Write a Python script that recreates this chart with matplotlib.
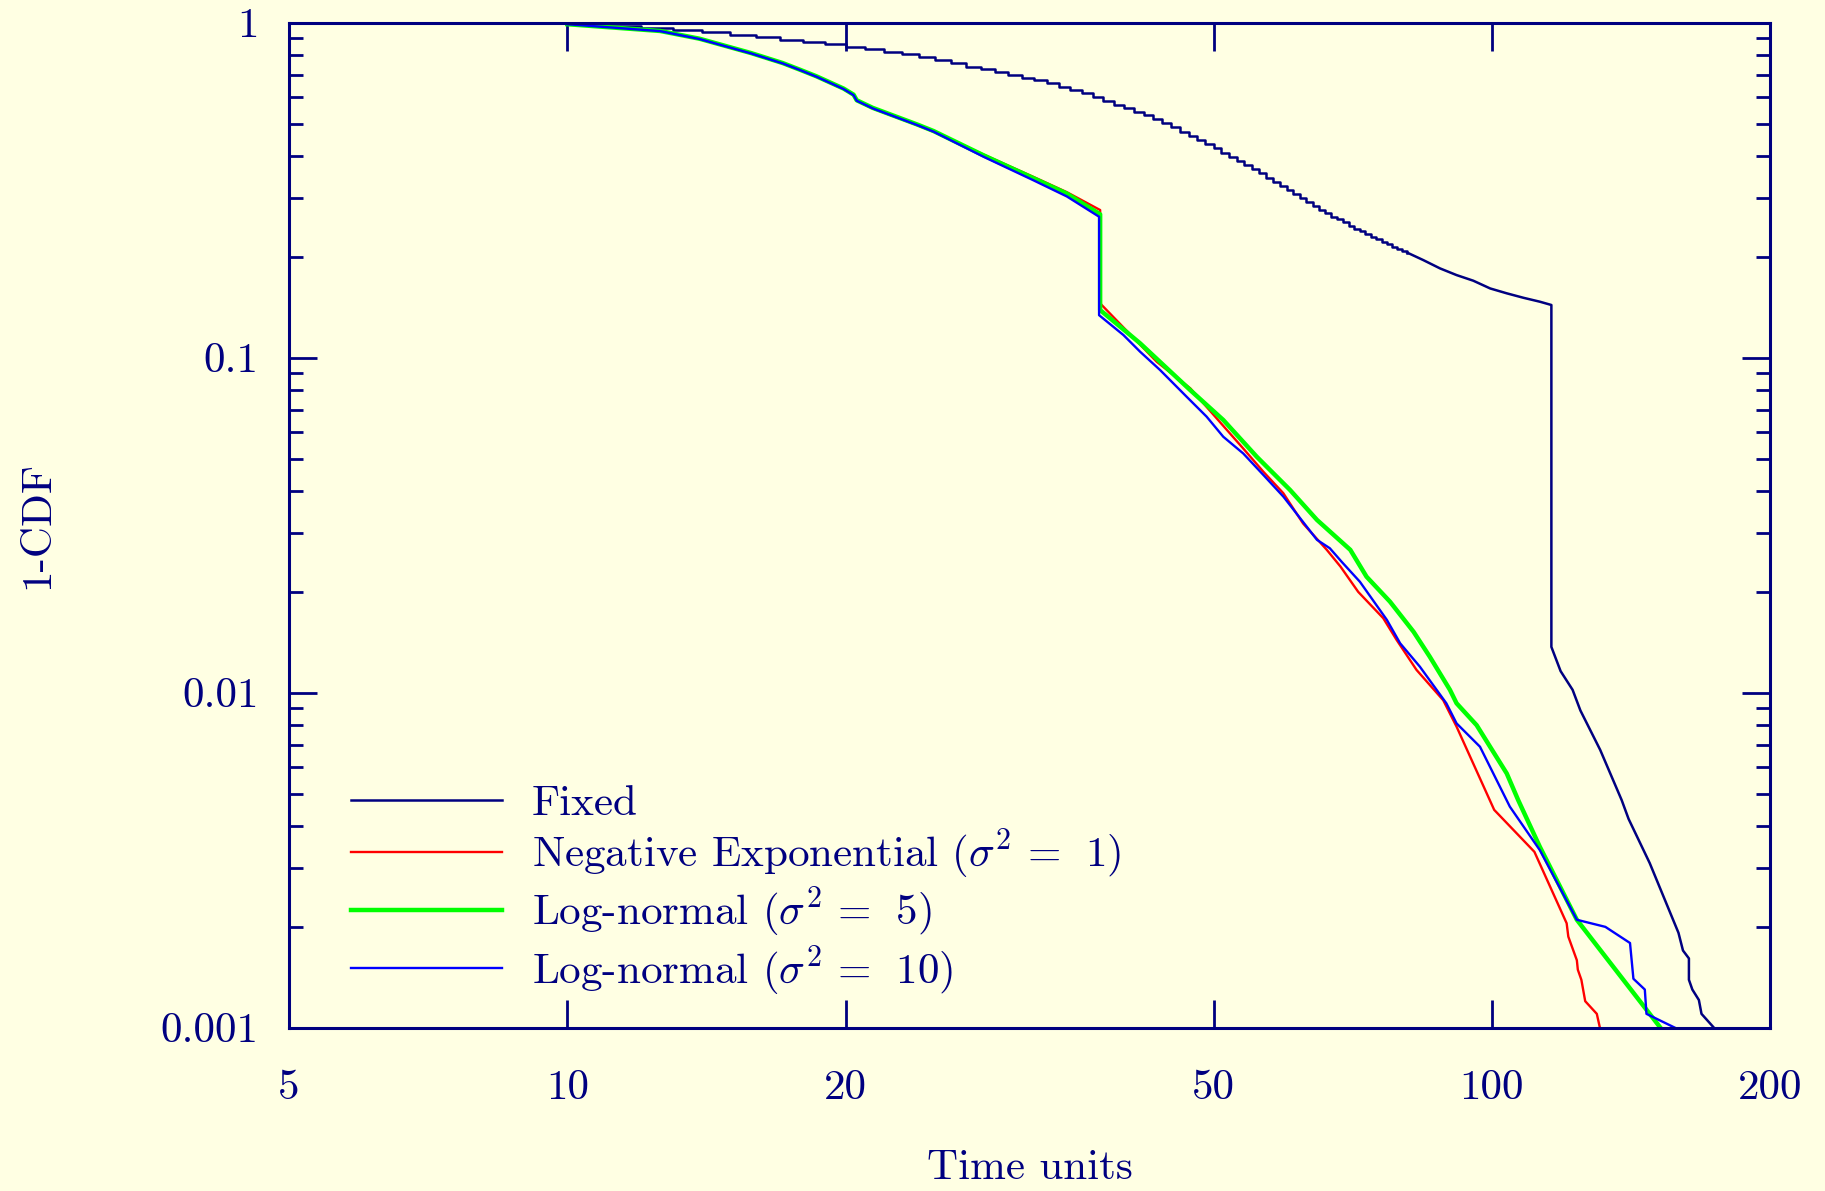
import numpy as np
import matplotlib
matplotlib.use("Agg")
import matplotlib.pyplot as plt
from matplotlib.ticker import LogLocator, NullLocator, NullFormatter

# Fixed: survival steps at integer times, then smoother tail after t=81
fixed_step_t = list(range(10, 82))
fixed_step_v = [0.99, 0.978, 0.962, 0.951, 0.940, 0.919, 0.904, 0.888, 0.874, 0.862,
                0.846, 0.835, 0.820, 0.805, 0.790, 0.772, 0.756, 0.739, 0.726, 0.711,
                0.698, 0.685, 0.6745, 0.659, 0.644, 0.630, 0.615, 0.601, 0.585, 0.570,
                0.556, 0.543, 0.530, 0.516, 0.501, 0.487, 0.473, 0.460, 0.447, 0.4345,
                0.422, 0.409, 0.398, 0.387, 0.376, 0.365, 0.355, 0.345, 0.335, 0.3255,
                0.317, 0.308, 0.299, 0.292, 0.284, 0.276, 0.270, 0.264, 0.259, 0.2535,
                0.248, 0.243, 0.239, 0.2345, 0.230, 0.226, 0.222, 0.218, 0.2145, 0.2116,
                0.2087, 0.206]
fixed_tail_t = [81, 84.3, 87.9, 91.6, 95.5, 99.6, 103.8, 108.2, 112.7, 116.0, 116.0,
                118.7, 122.3, 124.7, 131.0, 138.2, 140.6, 148.2, 159.2, 161.0, 163.4,
                163.4, 164.8, 167.5, 168.6, 173.9]
fixed_tail_v = [0.206, 0.1957, 0.1848, 0.1765, 0.1698, 0.161, 0.1557, 0.151, 0.147, 0.1437, 0.0137,
                0.0116, 0.0102, 0.00885, 0.00675, 0.00478, 0.0042, 0.0031, 0.00192, 0.0017, 0.00161,
                0.00139, 0.0013, 0.00121, 0.0011, 0.001]

negexp_t = [10.0, 12.6, 13.9, 15.8, 17.1, 17.85, 18.6, 19.9, 20.4, 20.56, 21.4, 23.9, 24.9,
            28.2, 31.9, 34.7, 37.7, 37.7, 43.4, 47.2, 50.4, 53.84, 56.6, 59.5, 62.5, 66.3,
            68.6, 71.7, 76.3, 78.9, 82.9, 88.6, 91.6, 100.6, 111.2, 120.5, 121.0, 123.6,
            123.9, 125.0, 126.2, 129.9, 130.9]
negexp_v = [0.99, 0.944, 0.894, 0.81, 0.756, 0.7225, 0.69, 0.634, 0.608, 0.585, 0.555, 0.495, 0.473,
            0.404, 0.347, 0.312, 0.276, 0.1453, 0.0973, 0.081, 0.0659, 0.0536, 0.0457, 0.0394, 0.032, 0.0267,
            0.0238, 0.020, 0.0167, 0.01437, 0.0117, 0.0095, 0.00792, 0.00447, 0.00335, 0.00205, 0.00187, 0.00159,
            0.00149, 0.00139, 0.0012, 0.0011, 0.001]

logn5_t = [10.0, 12.6, 13.9, 15.8, 17.1, 17.85, 18.6, 19.9, 20.4, 20.56, 21.4, 23.9, 24.9,
           28.2, 31.9, 34.7, 37.7, 37.7, 41.65, 47.2, 51.23, 55.7, 60.5, 64.7, 70.3, 73.2,
           77.6, 82.3, 85.7, 90.1, 91.6, 96.3, 103.8, 106.8, 112.7, 123.6, 152.2]
logn5_v = [0.99, 0.945, 0.896, 0.812, 0.758, 0.724, 0.692, 0.636, 0.610, 0.587, 0.557, 0.497, 0.475,
           0.402, 0.344, 0.309, 0.268, 0.1388, 0.1104, 0.080, 0.0652, 0.0506, 0.0403, 0.0328, 0.0267, 0.0222,
           0.0187, 0.0152, 0.0128, 0.0102, 0.0093, 0.0080, 0.00574, 0.00478, 0.00347, 0.0021, 0.001]

logn10_t = [10.0, 12.6, 13.9, 15.8, 17.1, 17.85, 18.6, 19.9, 20.4, 20.56, 21.4, 23.9, 24.9,
            28.2, 31.9, 34.7, 37.6, 37.6, 39.95, 41.65, 43.77, 46.76, 49.15, 51.23, 53.84, 56.6,
            59.5, 64.7, 66.8, 68.8, 72.0, 77.0, 79.6, 83.6, 89.3, 91.6, 97.1, 104.6, 112.7,
            123.6, 132.7, 141.1, 142.3, 146.4, 147.0, 157.8]
logn10_v = [0.99, 0.944, 0.894, 0.81, 0.756, 0.7225, 0.69, 0.634, 0.608, 0.585, 0.555, 0.495, 0.473,
            0.398, 0.339, 0.303, 0.2636, 0.134, 0.1169, 0.1042, 0.0919, 0.0765, 0.0667, 0.0581, 0.0518, 0.0447,
            0.0385, 0.0286, 0.027, 0.0246, 0.02144, 0.0165, 0.01404, 0.01196, 0.0093, 0.0081, 0.0069, 0.00457, 0.00339,
            0.0021, 0.0020, 0.00179, 0.0014, 0.0013, 0.0011, 0.001]

x_ticks = [5, 10, 20, 50, 100, 200]
x_labels = ["5", "10", "20", "50", "100", "200"]
y_ticks = [0.001, 0.01, 0.1, 1]
y_labels = ["0.001", "0.01", "0.1", "1"]

NAVY = "#000080"
BG = "#ffffe3"
FS = 31

plt.rcParams["font.family"] = "serif"
plt.rcParams["font.serif"] = ["cmr10"]
plt.rcParams["mathtext.fontset"] = "cm"
plt.rcParams["axes.formatter.use_mathtext"] = True

fig = plt.figure(figsize=(18.25, 11.91), dpi=100, facecolor=BG)
ax = fig.add_axes([0.1584, 0.1371, 0.8115, 0.8438])
ax.set_facecolor(BG)
ax.set_xscale("log")
ax.set_yscale("log")

ax.plot(fixed_step_t, fixed_step_v, color=NAVY, lw=1.8, drawstyle="steps-post", label="Fixed")
ax.plot(fixed_tail_t, fixed_tail_v, color=NAVY, lw=1.8)
ax.plot(negexp_t, negexp_v, color="#ff0000", lw=1.7,
        label=r"Negative Exponential ($\sigma^2\,=\;\,1$)")
ax.plot(logn5_t, logn5_v, color="#00ff00", lw=3.2, label=r"Log-normal ($\sigma^2\,=\;\,5$)")
ax.plot(logn10_t, logn10_v, color="#0000ff", lw=1.7, label=r"Log-normal ($\sigma^2\,=\;\,10$)")

ax.set_xlim(5, 200)
ax.set_ylim(0.001, 1)
ax.set_xticks(x_ticks)
ax.set_xticklabels(x_labels)
ax.xaxis.set_minor_locator(NullLocator())
ax.set_yticks(y_ticks)
ax.set_yticklabels(y_labels)
ax.yaxis.set_minor_locator(LogLocator(base=10, subs=np.arange(2, 10)))
ax.yaxis.set_minor_formatter(NullFormatter())

ax.tick_params(which="both", direction="in", top=True, right=True,
               colors=NAVY, labelsize=FS, width=2)
ax.tick_params(which="major", length=20)
ax.tick_params(axis="x", which="major", pad=30)
ax.tick_params(axis="y", which="major", pad=22)
ax.tick_params(which="minor", length=10)
for s in ax.spines.values():
    s.set_color(NAVY)
    s.set_linewidth(2.2)

ax.set_xlabel("Time units", fontsize=FS, color=NAVY, labelpad=31)
ax.set_ylabel("1-CDF", fontsize=FS, color=NAVY, labelpad=75)

ax.legend(loc="lower left", bbox_to_anchor=(0.042, 0.03), frameon=False,
          fontsize=FS, labelcolor=NAVY, handlelength=3.5, handletextpad=0.7,
          labelspacing=0.1, borderpad=0, borderaxespad=0)

fig.savefig("out.png", dpi=100, facecolor=BG)
